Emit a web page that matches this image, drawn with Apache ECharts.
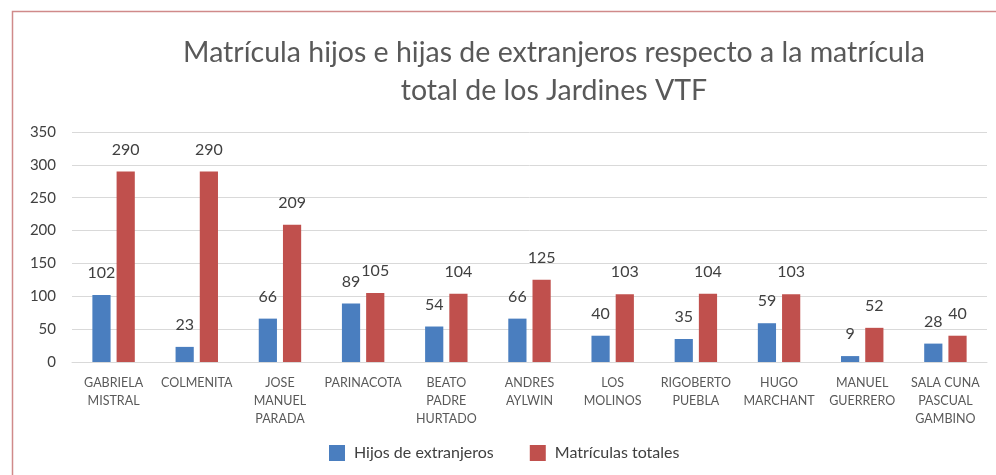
<!DOCTYPE html>
<html><head><meta charset="utf-8">
<script src="https://cdn.jsdelivr.net/npm/echarts@6/dist/echarts.min.js"></script>
<style>html,body{margin:0;padding:0;background:#fff}#c{width:996px;height:475px}</style>
</head><body><div id="c"></div>
<script>
var categories = ["GABRIELA\nMISTRAL","COLMENITA","JOSE\nMANUEL\nPARADA","PARINACOTA","BEATO\nPADRE\nHURTADO","ANDRES\nAYLWIN","LOS\nMOLINOS","RIGOBERTO\nPUEBLA","HUGO\nMARCHANT","MANUEL\nGUERRERO","SALA CUNA\nPASCUAL\nGAMBINO"];
var hijosExtranjeros = [102,23,66,89,54,66,40,35,59,9,28];
var matriculasTotales = [290,290,209,105,104,125,103,104,103,52,40];
var seriesNames = ["Hijos de extranjeros","Matrículas totales"];
var titleText = "Matrícula hijos e hijas de extranjeros respecto a la matrícula\ntotal de los Jardines VTF";

var chart = echarts.init(document.getElementById('c'), null, {renderer:'canvas'});
var labelStyle = {show:true, position:'top', distance:14, fontSize:16, color:'#404040', fontFamily:'Lato'};
chart.setOption({
  animation:false,
  backgroundColor:'#fff',
  graphic:[{type:'rect', shape:{x:12.5,y:11.5,width:1000,height:500}, style:{fill:'none', stroke:'#d08a8a', lineWidth:1.5}, silent:true}],
  title:{text:titleText, left:549, top:29, textAlign:'center',
    textStyle:{fontFamily:'Lato', fontWeight:'normal', fontSize:28.5, color:'#595959', lineHeight:38}},
  grid:{left:72, right:9, top:132, bottom:113},
  legend:{bottom:9, left:324, itemWidth:16, itemHeight:16, itemGap:36, icon:'rect',
    textStyle:{fontFamily:'Lato', fontSize:16, color:'#404040', padding:[0,0,0,4]}},
  xAxis:{type:'category', data:categories,
    axisLine:{lineStyle:{color:'#d9d9d9'}}, axisTick:{show:false},
    axisLabel:{interval:0, margin:12, fontFamily:'Lato', fontSize:12.5, color:'#595959', lineHeight:18}},
  yAxis:{type:'value', min:0, max:350, interval:50,
    axisLine:{show:false}, axisTick:{show:false},
    splitLine:{lineStyle:{color:'#d9d9d9'}},
    axisLabel:{margin:16, fontFamily:'Lato', fontSize:15, color:'#404040'}},
  series:[
    {name:seriesNames[0], type:'bar', data:hijosExtranjeros, barGap:'33%', barCategoryGap:'49%',
      itemStyle:{color:'#4a7ebf'}, label:labelStyle},
    {name:seriesNames[1], type:'bar', data:matriculasTotales,
      itemStyle:{color:'#c0504d'}, label:labelStyle}
  ]
});
</script></body></html>
